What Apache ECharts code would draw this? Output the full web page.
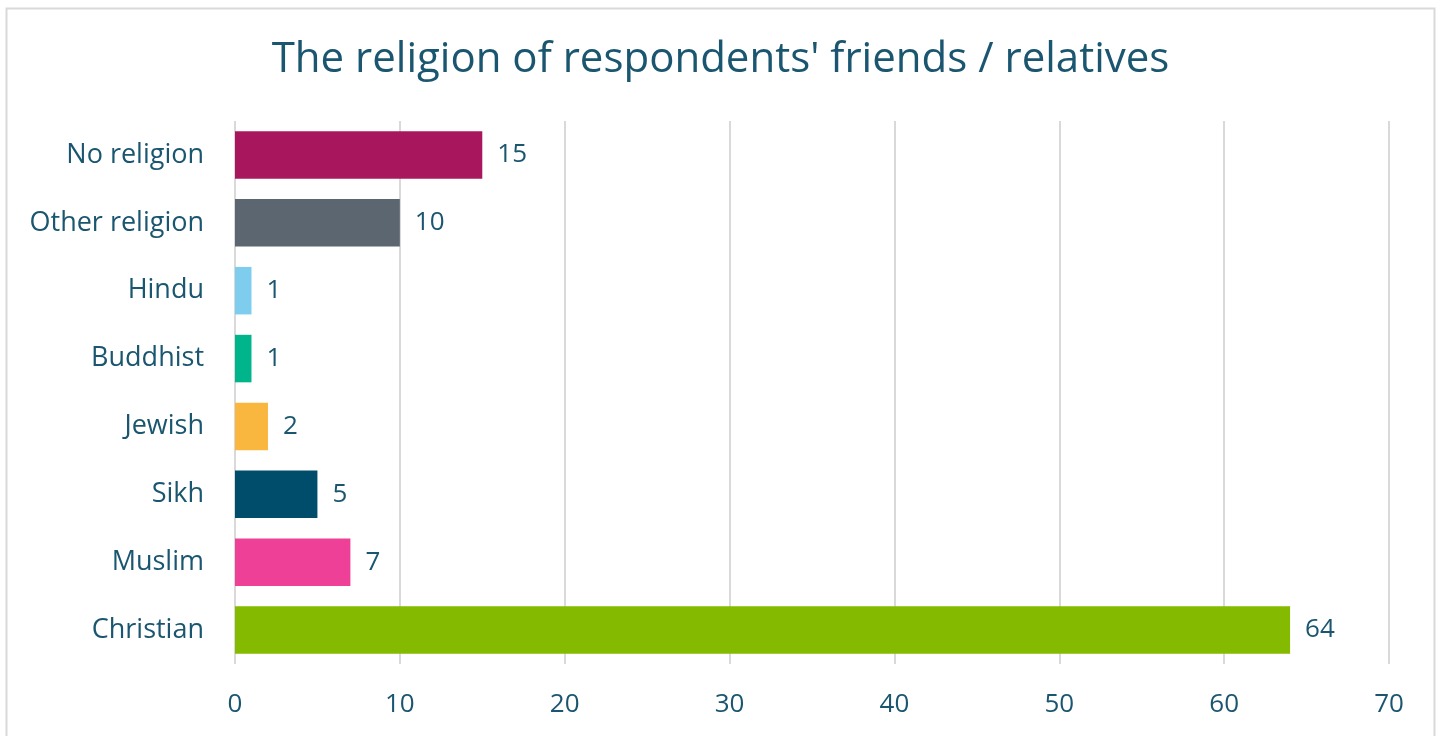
<!DOCTYPE html>
<html><head><meta charset="utf-8">
<script src="https://cdn.jsdelivr.net/npm/echarts@6/dist/echarts.min.js"></script>
<style>html,body{margin:0;padding:0;background:#fff}#c{width:1441px;height:736px}</style>
</head><body><div id="c"></div>
<script>
const categories = ['Christian','Muslim','Sikh','Jewish','Buddhist','Hindu','Other religion','No religion'];
const values = [64, 7, 5, 2, 1, 1, 10, 15];
const colors = ['#84BA00','#EF4098','#004D6B','#F9B73F','#00B48C','#7FCDEE','#5C6670','#A8175E'];
const xTicks = [0,10,20,30,40,50,60,70];
const txt = '#1B5670';
const font = 'Open Sans';
const chart = echarts.init(document.getElementById('c'));
chart.setOption({
  animation:false,
  graphic:[{type:'rect',shape:{x:6.5,y:8.5,width:1428,height:740},style:{fill:'none',stroke:'#D9D9D9',lineWidth:2}}],
  title:{text:"The religion of respondents' friends / relatives",left:'center',top:34,
    textStyle:{color:txt,fontFamily:font,fontSize:42,fontWeight:'normal'}},
  grid:{left:235,right:1441-1389,top:121,bottom:736-664,containLabel:false},
  xAxis:{type:'value',min:0,max:70,interval:10,
    axisLine:{show:false},axisTick:{show:false},
    splitLine:{lineStyle:{color:'#D9D9D9',width:2}},
    axisLabel:{color:txt,fontFamily:font,fontSize:26,margin:28,formatter:v=>xTicks.includes(v)?String(v):''}},
  yAxis:{type:'category',data:categories,axisLine:{show:false},axisTick:{show:false},
    axisLabel:{color:txt,fontFamily:font,fontSize:27,margin:31}},
  series:[{type:'bar',barWidth:'70%',
    data:values.map((v,i)=>({value:v,itemStyle:{color:colors[i]}})),
    label:{show:true,position:'right',distance:15,color:txt,fontFamily:font,fontSize:26}}]
});
</script></body></html>
